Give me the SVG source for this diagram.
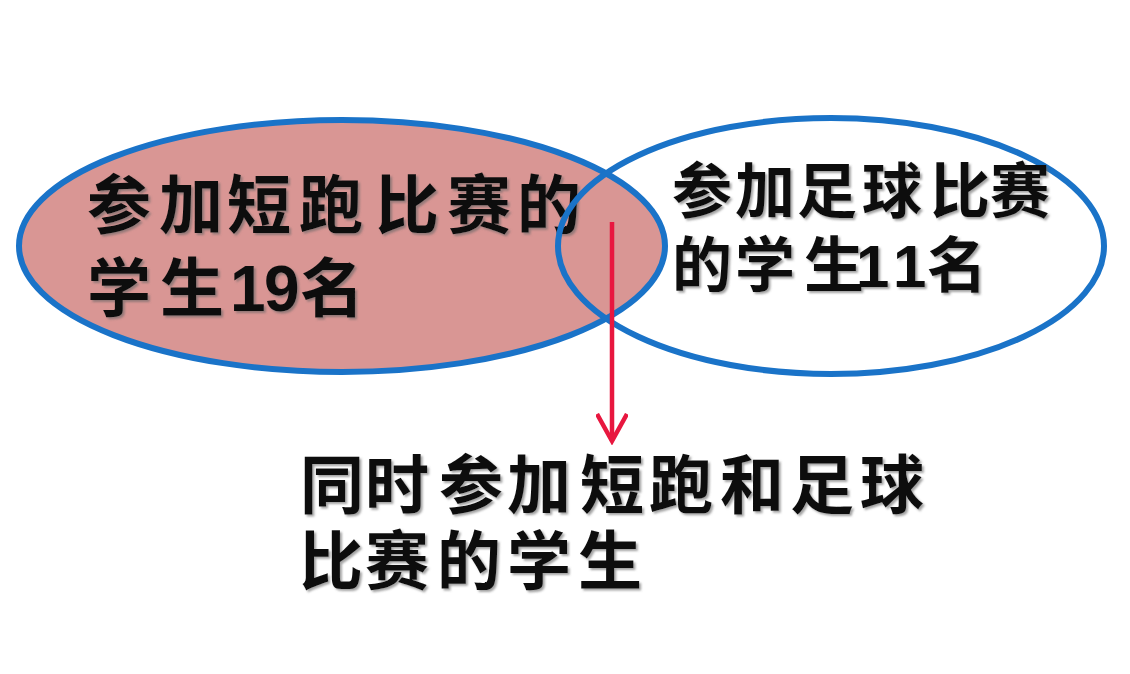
<svg xmlns="http://www.w3.org/2000/svg" width="1130" height="674" viewBox="0 0 1130 674">
  <defs>
    <style>
      .ring { stroke: #1A73C8; stroke-width: 6; }
      .lbl { font-family: "Liberation Sans", "Noto Sans CJK SC", "Noto Sans CJK JP", sans-serif; font-weight: 700; fill: #111; filter: url(#sh); }
      .big { font-size: 64px; }
      .mid { font-size: 60px; }
      .link { stroke: #E8173F; stroke-width: 4.5; fill: none; }
    </style>
    <filter id="sh" x="-5%" y="-10%" width="110%" height="130%">
      <feDropShadow dx="2" dy="2" stdDeviation="1" flood-color="#666" flood-opacity="0.6"/>
    </filter>
    <marker id="arrow" viewBox="0 0 32 32" refX="28" refY="16" markerWidth="32" markerHeight="32" markerUnits="userSpaceOnUse" orient="auto">
      <path d="M1,1 L28,16 L1,31" fill="none" stroke="#E8173F" stroke-width="4.5" stroke-linejoin="miter"/>
    </marker>
  </defs>
  <rect width="1130" height="674" fill="#FFFFFF"/>

  <g id="sprint">
    <ellipse class="ring" cx="342" cy="246" rx="323" ry="126" fill="#D99694"/>
    <text class="lbl big" y="228" x="87 159 227 299 375 447 517">参加短跑比赛的</text>
    <text class="lbl big" y="311" x="87 160 230 264 300">学生19名</text>
  </g>

  <g id="football">
    <ellipse class="ring" cx="831" cy="246" rx="273" ry="128" fill="none"/>
    <text class="lbl mid" y="213" x="672 735 797 862 930 990">参加足球比赛</text>
    <text class="lbl mid" y="287" x="672 735 804 856 893 927">的学生11名</text>
  </g>

  <g id="connectors">
    <line class="link" x1="612" y1="222" x2="612" y2="441" marker-end="url(#arrow)"/>
  </g>

  <g id="both">
    <text class="lbl big" y="508" x="300 365 439 507 580 649 720 790 860">同时参加短跑和足球</text>
    <text class="lbl big" y="584" x="299 365 437 507 578">比赛的学生</text>
  </g>
</svg>
